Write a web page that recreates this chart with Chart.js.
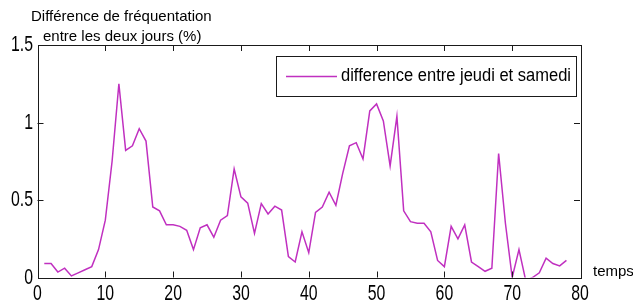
<!DOCTYPE html>
<html>
<head>
<meta charset="utf-8">
<script src="https://cdn.jsdelivr.net/npm/chart.js@4/dist/chart.umd.min.js"></script>
<style>
  html, body { margin: 0; padding: 0; background: #fff; }
  #wrap { width: 633px; height: 306px; position: relative; }
</style>
</head>
<body>
<div id="wrap"><canvas id="chart" width="633" height="306"></canvas></div>
<script>
const timeSteps = [
  1, 2, 3, 4, 5, 6, 7, 8, 9, 10, 11, 12, 13, 14, 15, 16, 17, 18, 19, 20,
  21, 22, 23, 24, 25, 26, 27, 28, 29, 30, 31, 32, 33, 34, 35, 36, 37, 38, 39, 40,
  41, 42, 43, 44, 45, 46, 47, 48, 49, 50, 51, 52, 53, 54, 55, 56, 57, 58, 59, 60,
  61, 62, 63, 64, 65, 66, 67, 68, 69, 70, 71, 72, 73, 74, 75, 76, 77, 78,
];
const diffValues = [
  0.09, 0.09, 0.035, 0.06, 0.01, 0.03, 0.05, 0.07, 0.18, 0.37,
  0.75, 1.25, 0.82, 0.85, 0.96, 0.88, 0.455, 0.43, 0.34, 0.34,
  0.33, 0.305, 0.18, 0.32, 0.34, 0.26, 0.37, 0.40, 0.70, 0.52,
  0.48, 0.285, 0.477, 0.41, 0.46, 0.435, 0.135, 0.10, 0.295, 0.16,
  0.42, 0.455, 0.55, 0.466, 0.67, 0.85, 0.87, 0.765, 1.075, 1.12,
  1.01, 0.72, 1.04, 0.43, 0.36, 0.35, 0.35, 0.295, 0.11, 0.07,
  0.33, 0.25, 0.34, 0.10, 0.07, 0.04, 0.06, 0.80, 0.35, 0.0,
  0.18, -0.02, 0.0, 0.03, 0.125, 0.09, 0.075, 0.11,
];
const xTicks = [0, 10, 20, 30, 40, 50, 60, 70, 80];
const yTicks = [0, 0.5, 1, 1.5];
const seriesLabel = 'difference entre jeudi et samedi';
const titleLines = ['Différence de fréquentation', 'entre les deux jours (%)'];
const xAxisLabel = 'temps';

const lineColor = '#c030c0';
const axisColor = '#1a1a1a';
const sansFamily = '"Liberation Sans", Arial, sans-serif';

// the original uses a tall, narrow face: squeeze a normal one horizontally
function drawNarrow(ctx, text, x, y, align, size, sx) {
  ctx.save();
  ctx.translate(x, y);
  ctx.scale(sx, 1);
  ctx.font = `${size}px ${sansFamily}`;
  ctx.textAlign = align;
  ctx.textBaseline = 'middle';
  ctx.fillText(text, 0, 0);
  ctx.restore();
}

// box round the plot, inward tick marks, tick labels, titles and legend
const decorations = {
  id: 'decorations',
  afterDraw(chart) {
    const { ctx, chartArea: a, scales } = chart;
    ctx.save();
    ctx.strokeStyle = axisColor;
    ctx.lineWidth = 1;
    ctx.strokeRect(Math.round(a.left) + 0.5, Math.round(a.top) + 0.5,
      Math.round(a.right - a.left), Math.round(a.bottom - a.top));

    ctx.beginPath();
    xTicks.slice(1, -1).forEach((v) => {
      const x = Math.round(scales.x.getPixelForValue(v)) + 0.5;
      ctx.moveTo(x, a.bottom); ctx.lineTo(x, a.bottom - 6);
      ctx.moveTo(x, a.top); ctx.lineTo(x, a.top + 6);
    });
    yTicks.slice(1, -1).forEach((v) => {
      const y = Math.round(scales.y.getPixelForValue(v)) + 0.5;
      ctx.moveTo(a.left, y); ctx.lineTo(a.left + 6, y);
      ctx.moveTo(a.right, y); ctx.lineTo(a.right - 6, y);
    });
    ctx.stroke();

    ctx.fillStyle = '#000';
    xTicks.forEach((v) => {
      drawNarrow(ctx, String(v), scales.x.getPixelForValue(v), 294, 'center', 22, 0.72);
    });
    yTicks.forEach((v) => {
      drawNarrow(ctx, String(v), 33, scales.y.getPixelForValue(v), 'right', 22, 0.72);
    });

    // y axis title, two lines
    ctx.font = `15px ${sansFamily}`;
    ctx.textBaseline = 'alphabetic';
    ctx.textAlign = 'left';
    ctx.fillText(titleLines[0], 31, 21);
    ctx.fillText(titleLines[1], 43, 41);

    // x axis title
    ctx.textBaseline = 'middle';
    ctx.fillText(xAxisLabel, 593, 272);

    // legend box
    const lx = 276, ly = 56, lw = 300, lh = 40;
    ctx.fillStyle = '#fff';
    ctx.fillRect(lx, ly, lw, lh);
    ctx.strokeStyle = axisColor;
    ctx.strokeRect(lx + 0.5, ly + 0.5, lw, lh);
    ctx.strokeStyle = lineColor;
    ctx.lineWidth = 1.5;
    ctx.beginPath();
    ctx.moveTo(286, 76.5); ctx.lineTo(337, 76.5);
    ctx.stroke();
    ctx.fillStyle = '#000';
    const label = chart.data.datasets[0].label;
    ctx.font = `18px ${sansFamily}`;
    const sx = 230 / ctx.measureText(label).width;
    drawNarrow(ctx, label, 341, 76, 'left', 18, sx);
    ctx.restore();
  },
};

new Chart(document.querySelector('#chart'), {
  type: 'line',
  data: {
    datasets: [{
      label: seriesLabel,
      data: timeSteps.map((t, i) => ({ x: t, y: diffValues[i] })),
      borderColor: lineColor,
      borderWidth: 1.5,
      pointRadius: 0,
      tension: 0,
      fill: false,
    }],
  },
  options: {
    responsive: false,
    animation: false,
    layout: { padding: { top: 45, right: 53, bottom: 0, left: 0 } },
    plugins: { legend: { display: false }, tooltip: { enabled: false } },
    scales: {
      x: {
        type: 'linear',
        min: 0,
        max: 80,
        afterBuildTicks: (scale) => { scale.ticks = xTicks.map((value) => ({ value })); },
        afterFit: (scale) => { scale.height = 28.5; },
        grid: { display: false },
        border: { display: false },
        ticks: { display: false },
      },
      y: {
        min: 0,
        max: 1.5,
        afterBuildTicks: (scale) => { scale.ticks = yTicks.map((value) => ({ value })); },
        afterFit: (scale) => { scale.width = 37.5; },
        grid: { display: false },
        border: { display: false },
        ticks: { display: false },
      },
    },
  },
  plugins: [decorations],
});
</script>
</body>
</html>
